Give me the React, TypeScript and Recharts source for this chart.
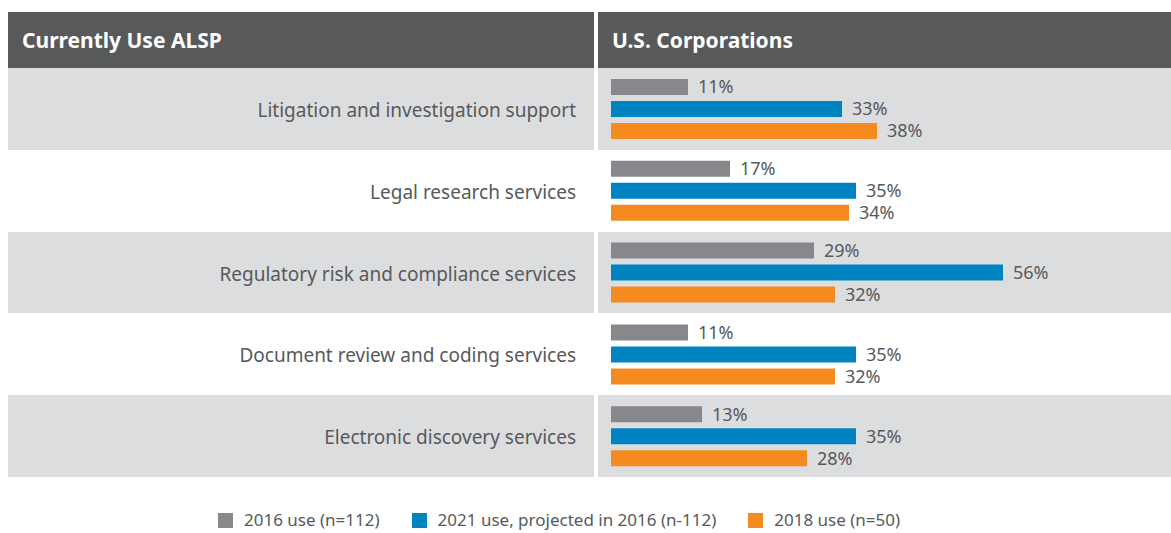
import React from 'react';
import { BarChart, Bar, XAxis, YAxis, LabelList, Legend } from 'recharts';

const categories = [
  'Litigation and investigation support',
  'Legal research services',
  'Regulatory risk and compliance services',
  'Document review and coding services',
  'Electronic discovery services',
];
const use2016 = [11, 17, 29, 11, 13];
const use2021 = [33, 35, 56, 35, 35];
const use2018 = [38, 34, 32, 32, 28];
const seriesNames = ['2016 use (n=112)', '2021 use, projected in 2016 (n-112)', '2018 use (n=50)'];
const seriesColors = ['#87888c', '#0083c1', '#f58a20'];
const headers = ['Currently Use ALSP', 'U.S. Corporations'];

const data = categories.map((name, i) => ({ name, a: use2016[i], b: use2021[i], c: use2018[i] }));

const W = 1171;
const H = 533;
const PLOT_TOP = 68;
const PLOT_BOTTOM = 477;
const SPLIT_L = 594;
const SPLIT_R = 598;
const LEFT = 8;
const FONT = '"Noto Sans", "Open Sans", sans-serif';
const TEXT = '#58595b';
const BAND = '#dcdddf';
const HEADER = '#58595b';

const CategoryTick = (props: any) => {
  const { x, y, payload } = props;
  return (
    <text x={x} y={y} dy={8} textAnchor="end" fill={TEXT} fontSize={19} fontFamily={FONT}>
      {payload.value}
    </text>
  );
};

const LegendContent = (props: any) => {
  const payload = [...(props.payload || [])].sort(
    (p: any, q: any) => seriesNames.indexOf(p.value) - seriesNames.indexOf(q.value)
  );
  return (
    <div style={{ display: 'flex', alignItems: 'center', fontFamily: FONT, fontSize: 17, color: TEXT, lineHeight: '22px', whiteSpace: 'nowrap' }}>
      {payload.map((p: any, i: number) => (
        <div key={i} style={{ display: 'flex', alignItems: 'center', marginRight: 32 }}>
          <span style={{ display: 'inline-block', width: 15, height: 15, background: p.color, marginRight: 11 }} />
          <span>{p.value}</span>
        </div>
      ))}
    </div>
  );
};

export default function App() {
  const bandH = (PLOT_BOTTOM - PLOT_TOP) / categories.length;
  const headerStyle: React.CSSProperties = {
    position: 'absolute', top: 12, height: PLOT_TOP - 12, background: HEADER, color: '#fff',
    fontWeight: 700, fontSize: 21, display: 'flex', alignItems: 'center', paddingLeft: 14, boxSizing: 'border-box',
  };
  return (
    <div style={{ position: 'absolute', left: 0, top: 0, width: W, height: H, overflow: 'hidden', background: '#fff', fontFamily: FONT }}>
      <div style={{ ...headerStyle, left: LEFT, width: SPLIT_L - LEFT }}>{headers[0]}</div>
      <div style={{ ...headerStyle, left: SPLIT_R, width: W - SPLIT_R }}>{headers[1]}</div>
      {categories.map((c, i) => (
        <React.Fragment key={c}>
          <div style={{ position: 'absolute', left: LEFT, top: PLOT_TOP + i * bandH, width: SPLIT_L - LEFT, height: bandH, background: i % 2 === 0 ? BAND : '#fff' }} />
          <div style={{ position: 'absolute', left: SPLIT_R, top: PLOT_TOP + i * bandH, width: W - SPLIT_R, height: bandH, background: i % 2 === 0 ? BAND : '#fff' }} />
        </React.Fragment>
      ))}
      <div style={{ position: 'absolute', left: 0, top: 0 }}>
        <BarChart
          width={W}
          height={H}
          data={data}
          layout="vertical"
          margin={{ top: PLOT_TOP, bottom: H - PLOT_BOTTOM, left: 0, right: 0 }}
          barSize={16}
          barGap={6}
          barCategoryGap={11}
        >
          <XAxis type="number" domain={[0, 80]} hide />
          <YAxis
            type="category"
            dataKey="name"
            width={611}
            axisLine={false}
            tickLine={false}
            tickSize={0}
            tickMargin={35}
            tick={<CategoryTick />}
          />
          {(['a', 'b', 'c'] as const).map((k, i) => (
            <Bar key={k} dataKey={k} name={seriesNames[i]} fill={seriesColors[i]} isAnimationActive={false}>
              <LabelList
                dataKey={k}
                position="right"
                offset={10}
                fill={TEXT}
                fontSize={18}
                fontFamily={FONT}
                formatter={(v: any) => `${v}%`}
              />
            </Bar>
          ))}
          <Legend
            layout="horizontal"
            verticalAlign="middle"
            align="center"
            content={<LegendContent />}
            wrapperStyle={{ position: 'absolute', left: 218, top: 509, width: 'auto', height: 22 }}
          />
        </BarChart>
      </div>
    </div>
  );
}
